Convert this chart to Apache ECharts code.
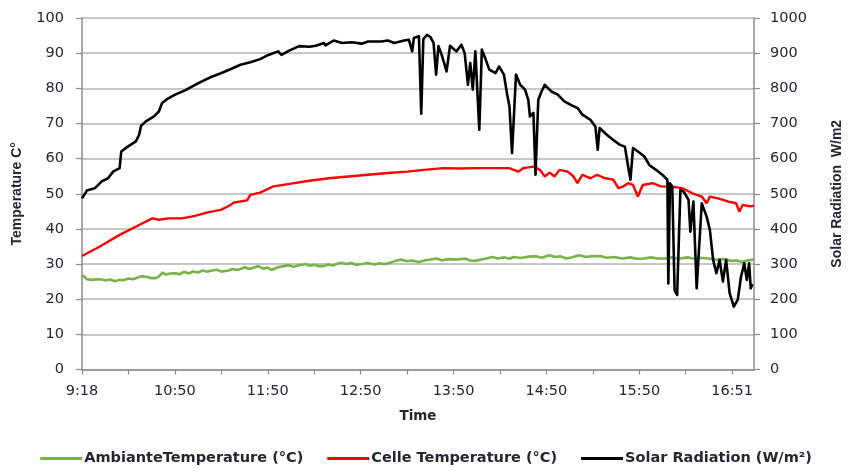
<!DOCTYPE html>
<html>
<head>
<meta charset="utf-8">
<script src="https://cdn.jsdelivr.net/npm/echarts@6/dist/echarts.min.js"></script>
<style>
  html, body { margin: 0; padding: 0; background: #ffffff; }
  #chart { width: 852px; height: 471px; }
</style>
</head>
<body>
<div id="chart"></div>
<script>
// Sample index along the day; a labelled tick every 40 samples
const timeLabels = ['9:18', '10:50', '11:50', '12:50', '13:50', '14:50', '15:50', '16:51'];
const sampleMax = 289.4;

// Ambient temperature (°C)
const ambientX = [0, 1, 2.1, 4, 6, 8.6, 10, 12, 14.2, 16, 17.9, 20, 22, 25.5, 28, 30, 31.8, 33, 34.8, 36, 38, 40.3, 42, 44, 46, 47.9, 50, 52, 54, 55.5, 58, 60, 62.7, 65, 67, 70.3, 72, 74, 75.8, 78, 80, 81.7, 84, 86, 89.1, 91, 93, 96.5, 98, 100, 102, 104.1, 106, 108, 111.3, 114, 116, 118, 120.8, 123, 126, 128, 130.1, 132, 135, 137.5, 140, 142, 145.1, 148, 150, 152.5, 155, 158, 162, 165, 167, 169.4, 172, 174, 176.8, 179, 182, 184, 186, 189, 192, 195.5, 198, 201.2, 204, 206, 208.6, 211, 214.2, 217, 220, 223.6, 226, 229, 232.9, 236, 239, 242.2, 245, 248, 251.5, 254, 257, 260.8, 263, 266, 270.1, 273, 276, 279.6, 282, 284, 287, 289.4];
const ambientT = [26.9, 26.4, 25.7, 25.5, 25.7, 25.6, 25.3, 25.6, 25.1, 25.5, 25.4, 25.9, 25.7, 26.5, 26.3, 26.0, 26.0, 26.4, 27.6, 27.0, 27.3, 27.4, 27.1, 27.8, 27.3, 27.9, 27.6, 28.2, 27.8, 28.1, 28.4, 27.9, 28.1, 28.6, 28.3, 29.1, 28.6, 29.0, 29.4, 28.7, 29.0, 28.3, 29.0, 29.3, 29.7, 29.2, 29.6, 30.0, 29.5, 29.8, 29.4, 29.4, 29.9, 29.6, 30.4, 30.0, 30.3, 29.8, 30.0, 30.3, 29.9, 30.2, 30.0, 30.2, 30.9, 31.3, 30.8, 31.0, 30.6, 31.1, 31.3, 31.6, 31.1, 31.4, 31.3, 31.6, 31.0, 30.9, 31.3, 31.6, 32.0, 31.6, 31.9, 31.5, 32.0, 31.7, 32.1, 32.2, 31.8, 32.5, 32.0, 32.2, 31.6, 31.9, 32.5, 32.0, 32.3, 32.2, 31.8, 32.0, 31.6, 31.9, 31.5, 31.6, 31.9, 31.6, 31.6, 31.9, 31.5, 31.9, 31.6, 31.8, 31.6, 31.2, 31.4, 30.9, 31.0, 30.6, 31.1, 31.3];

// Cell temperature (°C)
const cellX = [0, 7.7, 16.2, 24.6, 30.3, 33.1, 37.3, 42.9, 48.6, 54.2, 59.8, 63.4, 65.5, 71.1, 72.5, 76.7, 82.4, 89.4, 97.9, 106.3, 114.8, 123.2, 131.7, 140.1, 147.2, 155.6, 162.7, 169.7, 176.8, 183.8, 188.0, 190.1, 194.6, 197.2, 199.3, 201.4, 203.5, 205.6, 209.2, 211.7, 213.4, 215.5, 219.0, 221.8, 225.3, 228.8, 231.0, 233.1, 235.2, 237.3, 239.4, 241.5, 245.7, 249.3, 254.2, 258.4, 262.6, 266.9, 269.0, 270.4, 273.9, 278.1, 281.7, 283.1, 284.5, 288.0, 289.4];
const cellT = [32.3, 35.0, 38.3, 41.1, 43.0, 42.6, 43.0, 43.0, 43.7, 44.7, 45.4, 46.6, 47.5, 48.1, 49.7, 50.3, 52.1, 52.8, 53.7, 54.4, 54.9, 55.4, 55.9, 56.3, 56.8, 57.3, 57.2, 57.3, 57.3, 57.3, 56.3, 57.3, 57.7, 56.8, 54.9, 56.0, 54.9, 56.8, 56.3, 54.9, 53.0, 55.4, 54.4, 55.4, 54.4, 54.0, 51.6, 52.1, 53.0, 52.5, 49.2, 52.5, 53.0, 52.1, 52.0, 51.6, 50.2, 49.2, 47.3, 49.2, 48.7, 47.8, 47.3, 44.9, 46.8, 46.4, 46.6];

// Solar radiation (W/m²)
const solarX = [0, 2.1, 5.6, 8.5, 11.2, 13.4, 16.2, 16.9, 19.7, 23.2, 24.6, 25.4, 27.5, 31.0, 33.1, 34.5, 36.6, 40.1, 44.4, 47.9, 51.4, 55.6, 59.8, 64.1, 68.3, 72.5, 76.7, 80.3, 84.5, 85.9, 89.4, 93.6, 97.9, 100.7, 104.2, 104.9, 108.4, 112.0, 116.2, 120.4, 123.2, 128.9, 131.7, 134.5, 138.7, 140.8, 142.2, 142.9, 145.1, 146.1, 147.0, 148.6, 150.0, 151.4, 152.5, 153.5, 154.9, 157.0, 158.5, 161.2, 163.4, 164.8, 166.2, 167.2, 168.3, 169.4, 171.1, 172.2, 173.9, 175.4, 178.1, 179.6, 181.7, 183.1, 184.1, 185.2, 186.9, 188.7, 190.8, 192.2, 192.9, 194.4, 195.3, 196.5, 197.9, 199.3, 202.1, 204.9, 207.7, 211.3, 213.4, 215.5, 219.0, 221.1, 222.1, 222.9, 226.0, 228.8, 231.7, 233.8, 235.2, 236.2, 237.3, 239.4, 242.2, 244.3, 247.2, 249.9, 250.7, 252.1, 252.5, 253.2, 254.2, 255.2, 256.3, 257.7, 259.1, 261.2, 262.0, 263.3, 264.7, 266.9, 269.0, 270.4, 271.8, 273.2, 274.6, 276.0, 277.4, 278.9, 280.7, 282.4, 283.8, 285.2, 286.3, 287.3, 288.0, 288.7];
const solarR = [487, 509, 516, 535, 544, 563, 573, 620, 634, 649, 668, 693, 706, 720, 734, 758, 769, 782, 794, 807, 819, 832, 843, 855, 867, 874, 883, 895, 905, 895, 908, 920, 918, 921, 929, 922, 936, 929, 931, 927, 933, 933, 936, 929, 936, 938, 905, 943, 948, 728, 940, 952, 946, 929, 839, 920, 895, 848, 921, 905, 924, 900, 810, 872, 796, 905, 682, 910, 881, 853, 843, 862, 839, 782, 748, 616, 839, 810, 796, 767, 720, 730, 554, 767, 791, 810, 791, 782, 763, 750, 744, 725, 710, 691, 625, 687, 668, 653, 639, 634, 577, 540, 630, 620, 606, 582, 568, 554, 549, 540, 245, 530, 520, 226, 212, 511, 506, 483, 392, 478, 231, 473, 435, 397, 312, 274, 312, 250, 312, 217, 179, 198, 264, 302, 255, 302, 231, 243];

const pairs = (xs, ys) => xs.map((x, i) => [x, ys[i]]);

const labelColor = '#262633';
const axisGray = '#8c8c8c';
const gridGray = '#b4b4b4';
const tickFont = 'DejaVu Sans';

const chart = echarts.init(document.getElementById('chart'), null, { renderer: 'canvas' });

chart.setOption({
  animation: false,
  backgroundColor: '#ffffff',
  grid: { left: 82, right: 85, top: 18, bottom: 101.5, containLabel: false },
  legend: {
    bottom: 0,
    left: 'center',
    itemWidth: 42,
    itemHeight: 3,
    itemGap: 24,
    icon: 'rect',
    textStyle: { fontFamily: tickFont, fontWeight: 'bold', fontSize: 14.5, color: labelColor, padding: [0, 0, 0, -3] },
    data: ['AmbianteTemperature (°C)', 'Celle Temperature (°C)', 'Solar Radiation (W/m²)']
  },
  xAxis: {
    type: 'value',
    min: 0,
    max: sampleMax,
    interval: 20,
    name: 'Time',
    nameLocation: 'middle',
    nameGap: 40,
    nameTextStyle: { fontFamily: tickFont, fontWeight: 'bold', fontSize: 13.5, color: labelColor },
    axisLine: { show: true, lineStyle: { color: axisGray, width: 1.5 } },
    axisTick: { show: true, inside: false, length: 5, lineStyle: { color: axisGray, width: 1.2 } },
    axisLabel: {
      margin: 14,
      fontFamily: tickFont,
      fontSize: 14.5,
      color: labelColor,
      showMaxLabel: false,
      formatter: function (v) {
        const r = Math.round(v);
        if (Math.abs(v - r) > 0.01 || r % 40 !== 0) return '';
        return timeLabels[r / 40] || '';
      }
    },
    splitLine: { show: false }
  },
  yAxis: [
    {
      type: 'value',
      min: 0,
      max: 100,
      interval: 10,
      position: 'left',
      name: 'Temperature C°',
      nameLocation: 'middle',
      nameRotate: 90,
      nameGap: 58,
      nameTextStyle: { fontFamily: 'Liberation Sans', fontWeight: 'bold', fontSize: 14, color: labelColor },
      axisLine: { show: true, lineStyle: { color: axisGray, width: 1.5 } },
      axisTick: { show: true, length: 6, lineStyle: { color: axisGray, width: 1.2 } },
      axisLabel: { margin: 18, fontFamily: tickFont, fontSize: 14.5, color: labelColor },
      splitLine: { show: true, lineStyle: { color: gridGray, width: 1.5 } }
    },
    {
      type: 'value',
      min: 0,
      max: 1000,
      interval: 100,
      position: 'right',
      name: 'Solar Radiation  W/m2',
      nameLocation: 'middle',
      nameRotate: 90,
      nameGap: 76,
      nameTextStyle: { fontFamily: 'Liberation Sans', fontWeight: 'bold', fontSize: 14, color: labelColor },
      axisLine: { show: true, lineStyle: { color: axisGray, width: 1.5 } },
      axisTick: { show: true, length: 6, lineStyle: { color: axisGray, width: 1.2 } },
      axisLabel: { margin: 16, fontFamily: tickFont, fontSize: 14.5, color: labelColor, formatter: (v) => String(v) },
      splitLine: { show: false }
    }
  ],
  series: [
    {
      name: 'AmbianteTemperature (°C)',
      type: 'line',
      yAxisIndex: 0,
      symbol: 'none',
      data: pairs(ambientX, ambientT),
      itemStyle: { color: '#77b347' },
      lineStyle: { color: '#77b347', width: 2.6 }
    },
    {
      name: 'Celle Temperature (°C)',
      type: 'line',
      yAxisIndex: 0,
      symbol: 'none',
      data: pairs(cellX, cellT),
      itemStyle: { color: '#ff0000' },
      lineStyle: { color: '#ff0000', width: 2.4 }
    },
    {
      name: 'Solar Radiation (W/m²)',
      type: 'line',
      yAxisIndex: 1,
      symbol: 'none',
      data: pairs(solarX, solarR),
      itemStyle: { color: '#000000' },
      lineStyle: { color: '#000000', width: 2.6, join: 'round' }
    }
  ]
});
</script>
</body>
</html>
